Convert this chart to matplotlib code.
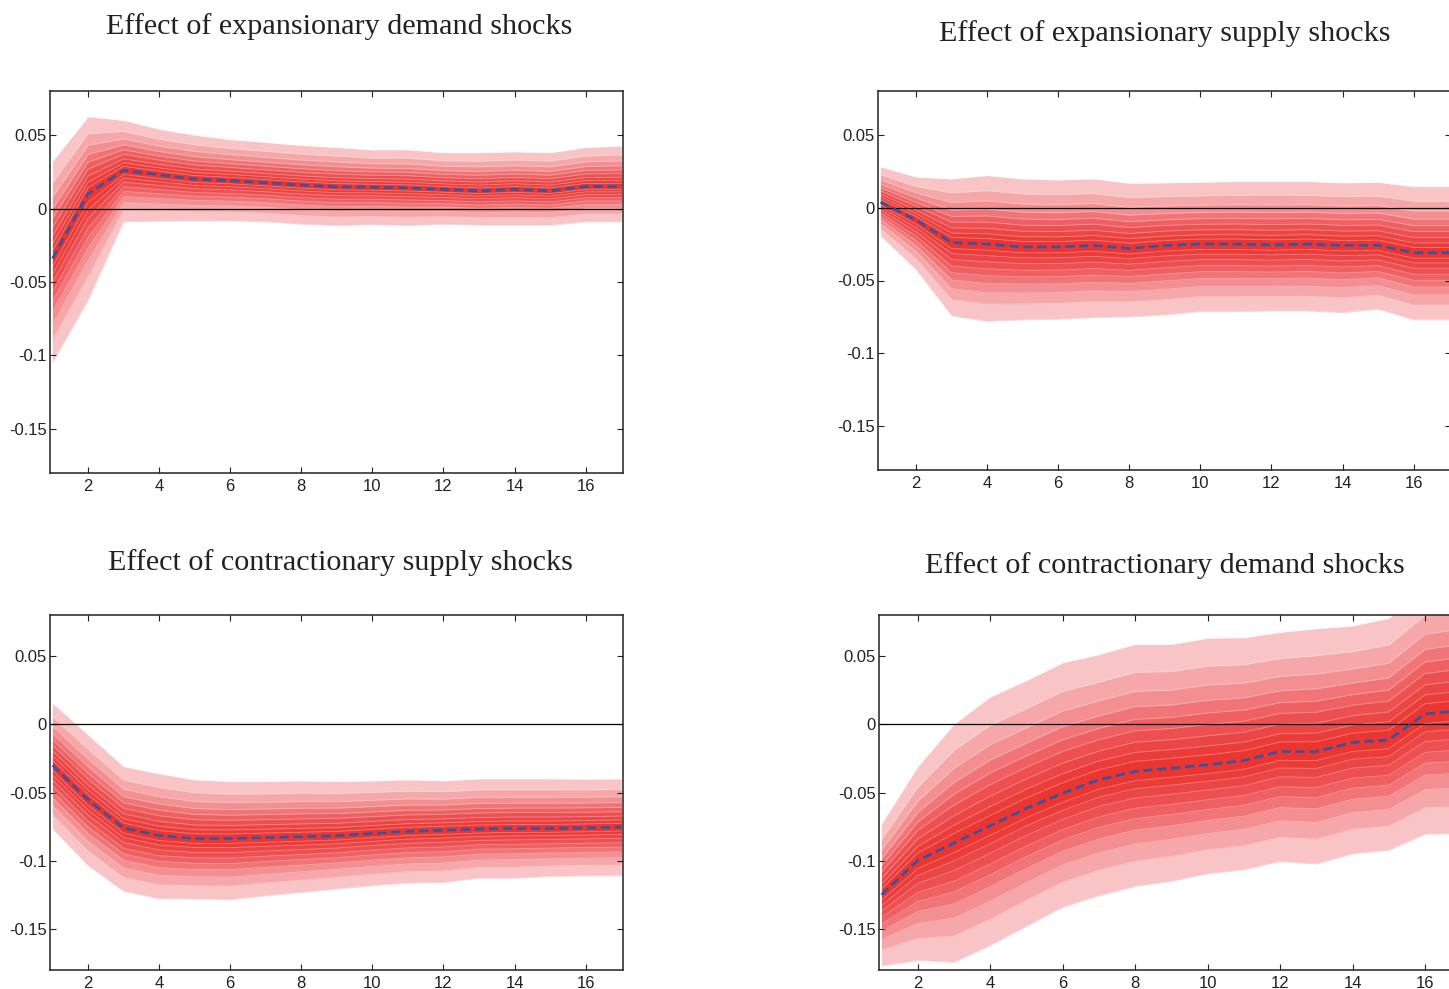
import matplotlib
matplotlib.use('Agg')
import matplotlib.pyplot as plt
import numpy as np

# horizon (quarters)
horizon = np.arange(1, 18)

# median responses
med_exp_demand = [-0.034, 0.010, 0.026, 0.023, 0.020, 0.019, 0.0175, 0.016, 0.0148,
                  0.0145, 0.014, 0.013, 0.012, 0.013, 0.012, 0.015, 0.015]
med_exp_supply = [0.0037, -0.0085, -0.024, -0.025, -0.027, -0.027, -0.026, -0.028, -0.026,
                  -0.025, -0.025, -0.0256, -0.025, -0.026, -0.0258, -0.031, -0.031]
med_con_supply = [-0.030, -0.0554, -0.076, -0.0815, -0.0837, -0.0837, -0.083, -0.0824, -0.0817,
                  -0.080, -0.0785, -0.0776, -0.0768, -0.0763, -0.0763, -0.0759, -0.0754]
med_con_demand = [-0.1249, -0.0998, -0.087, -0.0744, -0.0615, -0.0505, -0.0407, -0.0346, -0.0322,
                  -0.0298, -0.0266, -0.020, -0.020, -0.0134, -0.0115, 0.0076, 0.010]

# outer (widest) band, upper edge
up_exp_demand = [0.032, 0.0625, 0.060, 0.054, 0.050, 0.047, 0.045, 0.043, 0.0416,
                 0.040, 0.040, 0.038, 0.038, 0.0386, 0.038, 0.0416, 0.0425]
up_exp_supply = [0.028, 0.021, 0.0197, 0.022, 0.0197, 0.019, 0.0197, 0.0167, 0.017,
                 0.0174, 0.018, 0.018, 0.018, 0.017, 0.0174, 0.0144, 0.0144]
up_con_supply = [0.0154, -0.0078, -0.031, -0.0363, -0.0407, -0.042, -0.042, -0.0415, -0.042,
                 -0.0415, -0.0407, -0.0415, -0.040, -0.040, -0.040, -0.0402, -0.040]
up_con_demand = [-0.073, -0.031, 0.000, 0.020, 0.032, 0.045, 0.051, 0.0585, 0.0585,
                 0.063, 0.0634, 0.0673, 0.070, 0.072, 0.0776, 0.100, 0.105]

# outer (widest) band, lower edge
lo_exp_demand = [-0.105, -0.0625, -0.009, -0.0086, -0.0084, -0.0084, -0.009, -0.0107, -0.0116,
                 -0.011, -0.0116, -0.0107, -0.0114, -0.0114, -0.0114, -0.009, -0.009]
lo_exp_supply = [-0.0194, -0.0427, -0.0743, -0.078, -0.077, -0.0766, -0.0754, -0.075, -0.0736,
                 -0.0713, -0.0713, -0.0709, -0.0709, -0.072, -0.0697, -0.077, -0.077]
lo_con_supply = [-0.0768, -0.1037, -0.1224, -0.1278, -0.128, -0.1285, -0.1256, -0.1232, -0.1207,
                 -0.1183, -0.1163, -0.1159, -0.1127, -0.1127, -0.1115, -0.111, -0.111]
lo_con_demand = [-0.177, -0.173, -0.1744, -0.162, -0.148, -0.134, -0.1256, -0.1188, -0.115,
                 -0.1095, -0.1066, -0.1005, -0.1024, -0.0949, -0.0924, -0.0805, -0.080]

# relative position of each band edge between median and outer edge (outer -> inner)
band_fracs = [1.0, 0.78, 0.63, 0.51, 0.41, 0.32, 0.23, 0.15, 0.08]
band_colors = ['#f9c4c5', '#f6a7aa', '#f38e91', '#f17578', '#ef6062',
               '#ee5051', '#ec4545', '#eb3c3a', '#ea3531']

titles = ['Effect of expansionary demand shocks', 'Effect of expansionary supply shocks',
          'Effect of contractionary supply shocks', 'Effect of contractionary demand shocks']
yticks = [-0.15, -0.1, -0.05, 0, 0.05]
ytick_labels = ['-0.15', '-0.1', '-0.05', '0', '0.05']
xticks = [2, 4, 6, 8, 10, 12, 14, 16]

panels = [
    (med_exp_demand, up_exp_demand, lo_exp_demand),
    (med_exp_supply, up_exp_supply, lo_exp_supply),
    (med_con_supply, up_con_supply, lo_con_supply),
    (med_con_demand, up_con_demand, lo_con_demand),
]

W, H = 1449, 989
# axes boxes in pixels: left, top, right, bottom
boxes = [(50, 91, 623, 473), (878, 91, 1451, 470),
         (50, 615, 623, 970), (879, 615, 1463, 970)]
title_pos = [(339, 27), (1165, 34), (340, 563), (1165, 566)]

plt.rcParams['font.family'] = ['Liberation Sans', 'DejaVu Sans']

fig = plt.figure(figsize=(W / 100, H / 100), dpi=100)

for i, (med, up, lo) in enumerate(panels):
    l, t, r, b = boxes[i]
    ax = fig.add_axes([l / W, 1 - b / H, (r - l) / W, (b - t) / H])
    med = np.array(med)
    up = np.array(up)
    lo = np.array(lo)

    # fan bands, widest first
    for frac, col in zip(band_fracs, band_colors):
        hi_k = med + frac * (up - med)
        lo_k = med - frac * (med - lo)
        ax.fill_between(horizon, lo_k, hi_k, color=col, lw=0)
        ax.plot(horizon, hi_k, color='white', lw=0.6, alpha=0.35)
        ax.plot(horizon, lo_k, color='white', lw=0.6, alpha=0.35)

    ax.axhline(0, color='black', lw=0.9)
    ax.plot(horizon, med, color='#2f55a8', lw=1.9, linestyle=(0, (3.5, 1.8)))

    ax.set_xlim(0.93, 17.05)
    ax.set_ylim(-0.18, 0.08)
    ax.set_xticks(xticks)
    ax.set_xticklabels([str(v) for v in xticks])
    ax.set_yticks(yticks)
    ax.set_yticklabels(ytick_labels)
    ax.tick_params(direction='in', top=True, right=True, length=4, width=0.8,
                   labelsize=12, colors='#222222')
    ax.tick_params(axis='x', pad=4.5)
    ax.tick_params(axis='y', pad=2.5)
    for sp in ax.spines.values():
        sp.set_linewidth(1.1)
        sp.set_color('#222222')

    tx, ty = title_pos[i]
    fig.text(tx / W, 1 - ty / H, titles[i], ha='center', va='center',
             family='Liberation Serif', fontsize=21.7, color='#222222')

plt.savefig('out.png', dpi=100)
